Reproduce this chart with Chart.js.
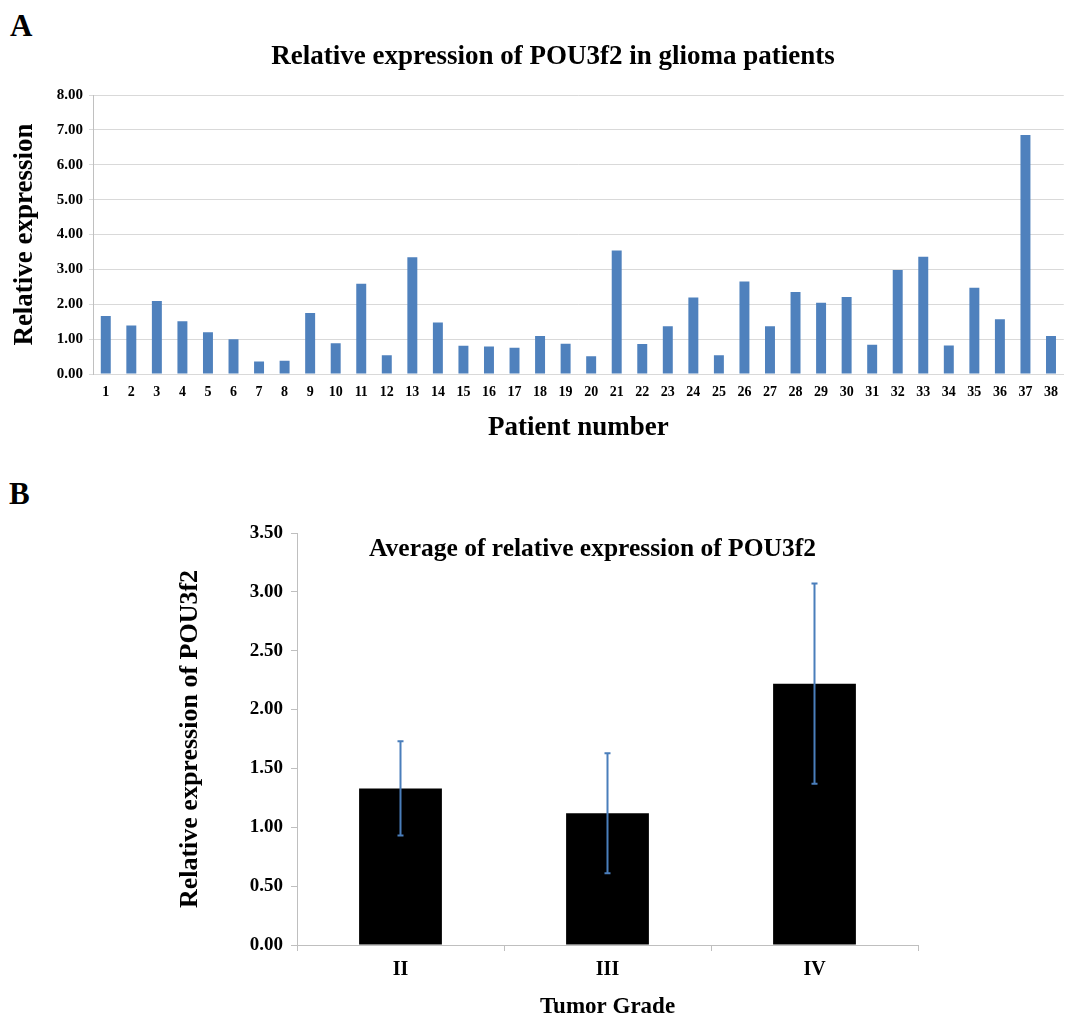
<!DOCTYPE html>
<html>
<head>
<meta charset="utf-8">
<script src="https://cdn.jsdelivr.net/npm/chart.js@4"></script>
<style>
  html, body { margin: 0; padding: 0; background: #fff; }
  #wrap { position: relative; width: 1068px; height: 1021px; }
  .panel { position: absolute; left: 0; width: 1068px; }
  .tag { position: absolute; font: bold 31px 'Liberation Serif', 'Times New Roman', serif; line-height: 1; color: #000; }
</style>
</head>
<body>
<div id="wrap">
  <div class="tag" style="left:10px; top:10px;">A</div>
  <div class="panel" style="top:0; height:460px;"><canvas id="chartA"></canvas></div>
  <div class="tag" style="left:9px; top:478px;">B</div>
  <div class="panel" style="top:460px; height:561px;"><canvas id="chartB"></canvas></div>
</div>
<script>
// panel A: one value per patient
var patients = ['1','2','3','4','5','6','7','8','9','10','11','12','13','14','15','16','17','18','19',
  '20','21','22','23','24','25','26','27','28','29','30','31','32','33','34','35','36','37','38'];
var expression = [1.66, 1.39, 2.09, 1.51, 1.20, 1.00, 0.36, 0.38, 1.75, 0.88, 2.59, 0.54, 3.35, 1.48,
  0.81, 0.79, 0.75, 1.09, 0.87, 0.51, 3.54, 0.86, 1.37, 2.19, 0.54, 2.65, 1.37, 2.35, 2.04, 2.21,
  0.84, 2.98, 3.36, 0.82, 2.47, 1.57, 6.85, 1.09];

// panel B: mean per tumor grade with error
var grades = ['II', 'III', 'IV'];
var gradeMean = [1.33, 1.12, 2.22];
var gradeErr = [0.40, 0.51, 0.85];

Chart.defaults.font.family = "'Liberation Serif', 'Times New Roman', serif";
Chart.defaults.color = '#000';

var bold = function(size) { return { size: size, weight: 'bold' }; };

new Chart(document.getElementById('chartA'), {
  type: 'bar',
  data: {
    labels: patients,
    datasets: [{
      data: expression,
      backgroundColor: '#4f81bd',
      barPercentage: 0.39,
      categoryPercentage: 1
    }]
  },
  options: {
    responsive: true,
    maintainAspectRatio: false,
    animation: false,
    layout: { padding: { left: 38, right: 0, top: 0, bottom: 0 } },
    plugins: {
      legend: { display: false },
      tooltip: { enabled: false },
      title: {
        display: true,
        text: 'Relative expression of POU3f2 in glioma patients',
        font: bold(27),
        padding: { top: 40.8, bottom: 21.8 }
      }
    },
    scales: {
      x: {
        grid: { display: false, drawTicks: false },
        border: { color: '#d9d9d9' },
        ticks: { font: bold(14), padding: 10, autoSkip: false, maxRotation: 0 },
        title: { display: true, text: 'Patient number', font: bold(27), padding: { top: 0, bottom: 15.8 } },
        afterFit: function(scale) { scale.height = 86; }
      },
      y: {
        min: 0,
        max: 8,
        ticks: { stepSize: 1, font: bold(15), padding: 6, callback: function(v) { return v.toFixed(2); } },
        grid: { color: '#d9d9d9', tickLength: 4 },
        border: { color: '#c0c0c0' },
        title: { display: true, text: 'Relative expression', font: bold(27), padding: { top: -29.2, bottom: 0 } },
        afterFit: function(scale) { scale.width = 55; }
      }
    }
  }
});

// error bars and inner title for panel B
var errorBars = {
  id: 'errorBars',
  afterDatasetsDraw: function(chart) {
    var ctx = chart.ctx;
    var y = chart.scales.y;
    var meta = chart.getDatasetMeta(0);
    ctx.save();
    ctx.strokeStyle = '#4a7ebb';
    ctx.lineWidth = 2;
    meta.data.forEach(function(bar, i) {
      var top = y.getPixelForValue(gradeMean[i] + gradeErr[i]);
      var bottom = y.getPixelForValue(gradeMean[i] - gradeErr[i]);
      ctx.beginPath();
      ctx.moveTo(bar.x, top);
      ctx.lineTo(bar.x, bottom);
      ctx.moveTo(bar.x - 3, top);
      ctx.lineTo(bar.x + 3, top);
      ctx.moveTo(bar.x - 3, bottom);
      ctx.lineTo(bar.x + 3, bottom);
      ctx.stroke();
    });
    ctx.restore();
  },
  afterDraw: function(chart) {
    var ctx = chart.ctx;
    var area = chart.chartArea;
    ctx.save();
    ctx.font = "bold 25.5px 'Liberation Serif', 'Times New Roman', serif";
    ctx.fillStyle = '#000';
    ctx.textAlign = 'center';
    ctx.textBaseline = 'middle';
    ctx.fillText('Average of relative expression of POU3f2', (area.left + area.right) / 2 - 15, area.top + 16);
    ctx.restore();
  }
};

new Chart(document.getElementById('chartB'), {
  type: 'bar',
  data: {
    labels: grades,
    datasets: [{
      data: gradeMean,
      backgroundColor: '#000',
      barPercentage: 0.4,
      categoryPercentage: 1
    }]
  },
  options: {
    responsive: true,
    maintainAspectRatio: false,
    animation: false,
    layout: { padding: { left: 0, right: 150, top: 73, bottom: 0 } },
    plugins: {
      legend: { display: false },
      tooltip: { enabled: false }
    },
    scales: {
      x: {
        grid: { drawOnChartArea: false, tickLength: 6, color: '#bfbfbf', offset: true },
        border: { color: '#bfbfbf' },
        ticks: { font: bold(20), padding: 7 },
        title: { display: true, text: 'Tumor Grade', font: bold(23), padding: { top: 0, bottom: 0 } },
        afterFit: function(scale) { scale.height = 76; }
      },
      y: {
        min: 0,
        max: 3.5,
        ticks: { stepSize: 0.5, font: bold(19), padding: 8, callback: function(v) { return v.toFixed(2); } },
        grid: { drawOnChartArea: false, tickLength: 6, color: '#bfbfbf' },
        border: { color: '#bfbfbf' },
        title: { display: true, text: 'Relative expression of POU3f2', font: bold(26), padding: { top: 174.4, bottom: 0 } },
        afterFit: function(scale) { scale.width = 297; }
      }
    }
  },
  plugins: [errorBars]
});
</script>
</body>
</html>
